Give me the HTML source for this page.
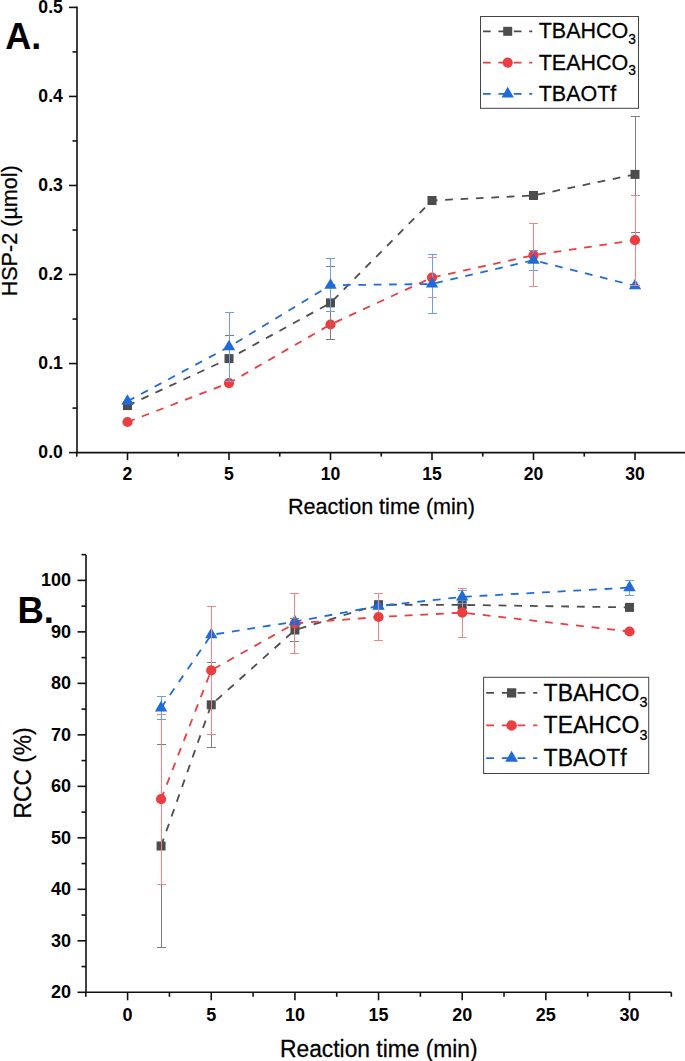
<!DOCTYPE html>
<html><head><meta charset="utf-8"><title>chart</title>
<style>html,body{margin:0;padding:0;background:#fff;}body{width:685px;height:1061px;overflow:hidden;font-family:"Liberation Sans",sans-serif;}svg{display:block;}</style>
</head><body>
<svg width="685" height="1061" viewBox="0 0 685 1061">
<rect width="685" height="1061" fill="#fff"/>
<g stroke="#111" stroke-width="1.6" fill="none">
<path d="M77.0,6.6 V452.6 H686"/>
<path d="M69.0,452.60 H77.0"/>
<path d="M69.0,363.56 H77.0"/>
<path d="M69.0,274.52 H77.0"/>
<path d="M69.0,185.48 H77.0"/>
<path d="M69.0,96.44 H77.0"/>
<path d="M69.0,7.40 H77.0"/>
<path d="M72.5,408.08 H77.0"/>
<path d="M72.5,319.04 H77.0"/>
<path d="M72.5,230.00 H77.0"/>
<path d="M72.5,140.96 H77.0"/>
<path d="M72.5,51.92 H77.0"/>
<path d="M127.50,452.6 V460.1"/>
<path d="M229.00,452.6 V460.1"/>
<path d="M330.50,452.6 V460.1"/>
<path d="M432.00,452.6 V460.1"/>
<path d="M533.50,452.6 V460.1"/>
<path d="M635.00,452.6 V460.1"/>
<path d="M76.75,452.6 V456.6"/>
<path d="M178.25,452.6 V456.6"/>
<path d="M279.75,452.6 V456.6"/>
<path d="M381.25,452.6 V456.6"/>
<path d="M482.75,452.6 V456.6"/>
<path d="M584.25,452.6 V456.6"/>
<path d="M685.75,452.6 V456.6"/>
</g>
<g font-family="Liberation Sans, sans-serif" font-weight="bold" font-size="17.6" fill="#000" text-anchor="end">
<text  transform="translate(62.80,458.10) scale(1,1.03)">0.0</text>
<text  transform="translate(62.80,369.06) scale(1,1.03)">0.1</text>
<text  transform="translate(62.80,280.02) scale(1,1.03)">0.2</text>
<text  transform="translate(62.80,190.98) scale(1,1.03)">0.3</text>
<text  transform="translate(62.80,101.94) scale(1,1.03)">0.4</text>
<text  transform="translate(62.80,12.90) scale(1,1.03)">0.5</text>
</g>
<g font-family="Liberation Sans, sans-serif" font-weight="bold" font-size="17.6" fill="#000" text-anchor="middle">
<text  transform="translate(127.50,480.20) scale(1,1.03)">2</text>
<text  transform="translate(229.00,480.20) scale(1,1.03)">5</text>
<text  transform="translate(330.50,480.20) scale(1,1.03)">10</text>
<text  transform="translate(432.00,480.20) scale(1,1.03)">15</text>
<text  transform="translate(533.50,480.20) scale(1,1.03)">20</text>
<text  transform="translate(635.00,480.20) scale(1,1.03)">30</text>
</g>
<text font-family="Liberation Sans, sans-serif" font-size="21.6" text-anchor="middle" stroke="#000" stroke-width="0.25" transform="translate(381.50,514.00) scale(1,1.05)">Reaction time (min)</text>
<text font-family="Liberation Sans, sans-serif" font-size="21.6" text-anchor="middle" stroke="#000" stroke-width="0.25" transform="translate(16.80,230.80) rotate(-90) scale(1,1.05)">HSP-2 (µmol)</text>
<text font-family="Liberation Sans, sans-serif" font-size="36" font-weight="bold" transform="translate(5.30,48.90) scale(1,1.03)">A.</text>
<g stroke="#111" stroke-width="1.6" fill="none">
<path d="M86.0,554.63 V992.3 H671.33"/>
<path d="M77.5,992.30 H86.0"/>
<path d="M77.5,940.81 H86.0"/>
<path d="M77.5,889.32 H86.0"/>
<path d="M77.5,837.83 H86.0"/>
<path d="M77.5,786.34 H86.0"/>
<path d="M77.5,734.85 H86.0"/>
<path d="M77.5,683.36 H86.0"/>
<path d="M77.5,631.87 H86.0"/>
<path d="M77.5,580.38 H86.0"/>
<path d="M81.5,966.55 H86.0"/>
<path d="M81.5,915.06 H86.0"/>
<path d="M81.5,863.57 H86.0"/>
<path d="M81.5,812.08 H86.0"/>
<path d="M81.5,760.59 H86.0"/>
<path d="M81.5,709.11 H86.0"/>
<path d="M81.5,657.62 H86.0"/>
<path d="M81.5,606.12 H86.0"/>
<path d="M81.5,554.63 H86.0"/>
<path d="M127.60,992.3 V1000.3"/>
<path d="M211.25,992.3 V1000.3"/>
<path d="M294.90,992.3 V1000.3"/>
<path d="M378.55,992.3 V1000.3"/>
<path d="M462.20,992.3 V1000.3"/>
<path d="M545.85,992.3 V1000.3"/>
<path d="M629.50,992.3 V1000.3"/>
<path d="M85.77,992.3 V996.8"/>
<path d="M169.43,992.3 V996.8"/>
<path d="M253.07,992.3 V996.8"/>
<path d="M336.73,992.3 V996.8"/>
<path d="M420.38,992.3 V996.8"/>
<path d="M504.02,992.3 V996.8"/>
<path d="M587.67,992.3 V996.8"/>
<path d="M671.33,992.3 V996.8"/>
</g>
<g font-family="Liberation Sans, sans-serif" font-weight="bold" font-size="18" fill="#000" text-anchor="end">
<text  transform="translate(71.00,998.00) scale(1,1.03)">20</text>
<text  transform="translate(71.00,946.51) scale(1,1.03)">30</text>
<text  transform="translate(71.00,895.02) scale(1,1.03)">40</text>
<text  transform="translate(71.00,843.53) scale(1,1.03)">50</text>
<text  transform="translate(71.00,792.04) scale(1,1.03)">60</text>
<text  transform="translate(71.00,740.55) scale(1,1.03)">70</text>
<text  transform="translate(71.00,689.06) scale(1,1.03)">80</text>
<text  transform="translate(71.00,637.57) scale(1,1.03)">90</text>
<text  transform="translate(71.00,586.08) scale(1,1.03)">100</text>
</g>
<g font-family="Liberation Sans, sans-serif" font-weight="bold" font-size="18" fill="#000" text-anchor="middle">
<text  transform="translate(127.60,1021.00) scale(1,1.03)">0</text>
<text  transform="translate(211.25,1021.00) scale(1,1.03)">5</text>
<text  transform="translate(294.90,1021.00) scale(1,1.03)">10</text>
<text  transform="translate(378.55,1021.00) scale(1,1.03)">15</text>
<text  transform="translate(462.20,1021.00) scale(1,1.03)">20</text>
<text  transform="translate(545.85,1021.00) scale(1,1.03)">25</text>
<text  transform="translate(629.50,1021.00) scale(1,1.03)">30</text>
</g>
<text font-family="Liberation Sans, sans-serif" font-size="22.8" text-anchor="middle" stroke="#000" stroke-width="0.25" transform="translate(378.80,1056.70) scale(1,1.05)">Reaction time (min)</text>
<text font-family="Liberation Sans, sans-serif" font-size="22.8" text-anchor="middle" stroke="#000" stroke-width="0.25" transform="translate(30.80,772.90) rotate(-90) scale(1,1.05)">RCC (%)</text>
<text font-family="Liberation Sans, sans-serif" font-size="36.5" font-weight="bold" transform="translate(17.50,622.50) scale(1,1.03)">B.</text>
<path d="M127.50,405.60 L229.00,358.60 L330.50,302.90 L432.00,200.50 L533.50,195.50 L635.00,174.40" fill="none" stroke="#4d4d4d" stroke-width="1.8" stroke-dasharray="7.7 7.7"/>
<rect x="123.00" y="401.10" width="9.00" height="9.00" fill="#4d4d4d"/>
<rect x="224.50" y="354.10" width="9.00" height="9.00" fill="#4d4d4d"/>
<rect x="326.00" y="298.40" width="9.00" height="9.00" fill="#4d4d4d"/>
<rect x="427.50" y="196.00" width="9.00" height="9.00" fill="#4d4d4d"/>
<rect x="529.00" y="191.00" width="9.00" height="9.00" fill="#4d4d4d"/>
<rect x="630.50" y="169.90" width="9.00" height="9.00" fill="#4d4d4d"/>
<path d="M127.50,422.00 L229.00,383.10 L330.50,324.50 L432.00,277.60 L533.50,255.20 L635.00,240.20" fill="none" stroke="#ec3d40" stroke-width="1.8" stroke-dasharray="7.7 7.7"/>
<circle cx="127.50" cy="422.00" r="5.10" fill="#ec3d40"/>
<circle cx="229.00" cy="383.10" r="5.10" fill="#ec3d40"/>
<circle cx="330.50" cy="324.50" r="5.10" fill="#ec3d40"/>
<circle cx="432.00" cy="277.60" r="5.10" fill="#ec3d40"/>
<circle cx="533.50" cy="255.20" r="5.10" fill="#ec3d40"/>
<circle cx="635.00" cy="240.20" r="5.10" fill="#ec3d40"/>
<path d="M127.50,401.30 L229.00,346.80 L330.50,285.20 L432.00,284.00 L533.50,260.30 L635.00,285.80" fill="none" stroke="#1f6cd8" stroke-width="1.8" stroke-dasharray="7.7 7.7"/>
<path d="M127.50,394.23 L133.70,404.83 L121.30,404.83 Z" fill="#1f6cd8"/>
<path d="M229.00,339.73 L235.20,350.33 L222.80,350.33 Z" fill="#1f6cd8"/>
<path d="M330.50,278.13 L336.70,288.73 L324.30,288.73 Z" fill="#1f6cd8"/>
<path d="M432.00,276.93 L438.20,287.53 L425.80,287.53 Z" fill="#1f6cd8"/>
<path d="M533.50,253.23 L539.70,263.83 L527.30,263.83 Z" fill="#1f6cd8"/>
<path d="M635.00,278.73 L641.20,289.33 L628.80,289.33 Z" fill="#1f6cd8"/>
<clipPath id="mga"><rect x="123.00" y="401.10" width="9.00" height="9.00" fill="#000"/><rect x="224.50" y="354.10" width="9.00" height="9.00" fill="#000"/><rect x="326.00" y="298.40" width="9.00" height="9.00" fill="#000"/><rect x="427.50" y="196.00" width="9.00" height="9.00" fill="#000"/><rect x="529.00" y="191.00" width="9.00" height="9.00" fill="#000"/><rect x="630.50" y="169.90" width="9.00" height="9.00" fill="#000"/></clipPath>
<path d="M229.5,335.5 V381.5 M225.0,335.5 H234.0 M225.0,381.5 H234.0" stroke="#7d7d7d" stroke-width="1" fill="none" shape-rendering="crispEdges"/>
<path d="M330.5,266.5 V339.5 M326.0,266.5 H335.0 M326.0,339.5 H335.0" stroke="#7d7d7d" stroke-width="1" fill="none" shape-rendering="crispEdges"/>
<path d="M635.5,116.5 V232.5 M631.0,116.5 H640.0 M631.0,232.5 H640.0" stroke="#7d7d7d" stroke-width="1" fill="none" shape-rendering="crispEdges"/>
<g clip-path="url(#mga)">
<path d="M229.5,335.5 V381.5 M225.0,335.5 H234.0 M225.0,381.5 H234.0" stroke="#4d4d4d" stroke-width="1" fill="none" shape-rendering="crispEdges"/>
<path d="M330.5,266.5 V339.5 M326.0,266.5 H335.0 M326.0,339.5 H335.0" stroke="#4d4d4d" stroke-width="1" fill="none" shape-rendering="crispEdges"/>
<path d="M635.5,116.5 V232.5 M631.0,116.5 H640.0 M631.0,232.5 H640.0" stroke="#4d4d4d" stroke-width="1" fill="none" shape-rendering="crispEdges"/>
</g>
<clipPath id="mra"><circle cx="127.50" cy="422.00" r="5.10" fill="#000"/><circle cx="229.00" cy="383.10" r="5.10" fill="#000"/><circle cx="330.50" cy="324.50" r="5.10" fill="#000"/><circle cx="432.00" cy="277.60" r="5.10" fill="#000"/><circle cx="533.50" cy="255.20" r="5.10" fill="#000"/><circle cx="635.00" cy="240.20" r="5.10" fill="#000"/></clipPath>
<path d="M432.5,257.5 V297.5 M428.0,257.5 H437.0 M428.0,297.5 H437.0" stroke="#f08587" stroke-width="1" fill="none" shape-rendering="crispEdges"/>
<path d="M533.5,223.5 V286.5 M529.0,223.5 H538.0 M529.0,286.5 H538.0" stroke="#f08587" stroke-width="1" fill="none" shape-rendering="crispEdges"/>
<path d="M635.5,195.5 V285.5 M631.0,195.5 H640.0 M631.0,285.5 H640.0" stroke="#f08587" stroke-width="1" fill="none" shape-rendering="crispEdges"/>
<g clip-path="url(#mra)">
<path d="M432.5,257.5 V297.5 M428.0,257.5 H437.0 M428.0,297.5 H437.0" stroke="#ec3d40" stroke-width="1" fill="none" shape-rendering="crispEdges"/>
<path d="M533.5,223.5 V286.5 M529.0,223.5 H538.0 M529.0,286.5 H538.0" stroke="#ec3d40" stroke-width="1" fill="none" shape-rendering="crispEdges"/>
<path d="M635.5,195.5 V285.5 M631.0,195.5 H640.0 M631.0,285.5 H640.0" stroke="#ec3d40" stroke-width="1" fill="none" shape-rendering="crispEdges"/>
</g>
<clipPath id="mba"><path d="M127.50,394.23 L133.70,404.83 L121.30,404.83 Z" fill="#000"/><path d="M229.00,339.73 L235.20,350.33 L222.80,350.33 Z" fill="#000"/><path d="M330.50,278.13 L336.70,288.73 L324.30,288.73 Z" fill="#000"/><path d="M432.00,276.93 L438.20,287.53 L425.80,287.53 Z" fill="#000"/><path d="M533.50,253.23 L539.70,263.83 L527.30,263.83 Z" fill="#000"/><path d="M635.00,278.73 L641.20,289.33 L628.80,289.33 Z" fill="#000"/></clipPath>
<path d="M229.5,312.5 V381.5 M225.0,312.5 H234.0 M225.0,381.5 H234.0" stroke="#6c9de6" stroke-width="1" fill="none" shape-rendering="crispEdges"/>
<path d="M330.5,258.5 V311.5 M326.0,258.5 H335.0 M326.0,311.5 H335.0" stroke="#6c9de6" stroke-width="1" fill="none" shape-rendering="crispEdges"/>
<path d="M432.5,254.5 V313.5 M428.0,254.5 H437.0 M428.0,313.5 H437.0" stroke="#6c9de6" stroke-width="1" fill="none" shape-rendering="crispEdges"/>
<path d="M533.5,250.5 V270.5 M529.0,250.5 H538.0 M529.0,270.5 H538.0" stroke="#6c9de6" stroke-width="1" fill="none" shape-rendering="crispEdges"/>
<g clip-path="url(#mba)">
<path d="M229.5,312.5 V381.5 M225.0,312.5 H234.0 M225.0,381.5 H234.0" stroke="#1f6cd8" stroke-width="1" fill="none" shape-rendering="crispEdges"/>
<path d="M330.5,258.5 V311.5 M326.0,258.5 H335.0 M326.0,311.5 H335.0" stroke="#1f6cd8" stroke-width="1" fill="none" shape-rendering="crispEdges"/>
<path d="M432.5,254.5 V313.5 M428.0,254.5 H437.0 M428.0,313.5 H437.0" stroke="#1f6cd8" stroke-width="1" fill="none" shape-rendering="crispEdges"/>
<path d="M533.5,250.5 V270.5 M529.0,250.5 H538.0 M529.0,270.5 H538.0" stroke="#1f6cd8" stroke-width="1" fill="none" shape-rendering="crispEdges"/>
</g>
<path d="M161.06,846.00 L211.25,704.80 L294.90,630.00 L378.55,604.70 L462.20,604.90 L629.50,607.40" fill="none" stroke="#4d4d4d" stroke-width="1.8" stroke-dasharray="7.85 7.8"/>
<rect x="156.56" y="841.50" width="9.00" height="9.00" fill="#4d4d4d"/>
<rect x="206.75" y="700.30" width="9.00" height="9.00" fill="#4d4d4d"/>
<rect x="290.40" y="625.50" width="9.00" height="9.00" fill="#4d4d4d"/>
<rect x="374.05" y="600.20" width="9.00" height="9.00" fill="#4d4d4d"/>
<rect x="457.70" y="600.40" width="9.00" height="9.00" fill="#4d4d4d"/>
<rect x="625.00" y="602.90" width="9.00" height="9.00" fill="#4d4d4d"/>
<path d="M161.06,799.20 L211.25,670.30 L294.90,623.40 L378.55,617.00 L462.20,612.60 L629.50,631.50" fill="none" stroke="#ec3d40" stroke-width="1.8" stroke-dasharray="7.85 7.8"/>
<circle cx="161.06" cy="799.20" r="5.10" fill="#ec3d40"/>
<circle cx="211.25" cy="670.30" r="5.10" fill="#ec3d40"/>
<circle cx="294.90" cy="623.40" r="5.10" fill="#ec3d40"/>
<circle cx="378.55" cy="617.00" r="5.10" fill="#ec3d40"/>
<circle cx="462.20" cy="612.60" r="5.10" fill="#ec3d40"/>
<circle cx="629.50" cy="631.50" r="5.10" fill="#ec3d40"/>
<path d="M161.06,707.90 L211.25,634.80 L294.90,621.70 L378.55,606.10 L462.20,596.90 L629.50,587.60" fill="none" stroke="#1f6cd8" stroke-width="1.8" stroke-dasharray="7.85 7.8"/>
<path d="M161.06,700.83 L167.26,711.43 L154.86,711.43 Z" fill="#1f6cd8"/>
<path d="M211.25,627.73 L217.45,638.33 L205.05,638.33 Z" fill="#1f6cd8"/>
<path d="M294.90,614.63 L301.10,625.23 L288.70,625.23 Z" fill="#1f6cd8"/>
<path d="M378.55,599.03 L384.75,609.63 L372.35,609.63 Z" fill="#1f6cd8"/>
<path d="M462.20,589.83 L468.40,600.43 L456.00,600.43 Z" fill="#1f6cd8"/>
<path d="M629.50,580.53 L635.70,591.13 L623.30,591.13 Z" fill="#1f6cd8"/>
<clipPath id="mgb"><rect x="156.56" y="841.50" width="9.00" height="9.00" fill="#000"/><rect x="206.75" y="700.30" width="9.00" height="9.00" fill="#000"/><rect x="290.40" y="625.50" width="9.00" height="9.00" fill="#000"/><rect x="374.05" y="600.20" width="9.00" height="9.00" fill="#000"/><rect x="457.70" y="600.40" width="9.00" height="9.00" fill="#000"/><rect x="625.00" y="602.90" width="9.00" height="9.00" fill="#000"/></clipPath>
<path d="M161.5,744.5 V947.5 M157.0,744.5 H166.0 M157.0,947.5 H166.0" stroke="#7d7d7d" stroke-width="1" fill="none" shape-rendering="crispEdges"/>
<path d="M211.5,662.5 V747.5 M207.0,662.5 H216.0 M207.0,747.5 H216.0" stroke="#7d7d7d" stroke-width="1" fill="none" shape-rendering="crispEdges"/>
<path d="M294.5,618.5 V641.5 M290.0,618.5 H299.0 M290.0,641.5 H299.0" stroke="#7d7d7d" stroke-width="1" fill="none" shape-rendering="crispEdges"/>
<g clip-path="url(#mgb)">
<path d="M161.5,744.5 V947.5 M157.0,744.5 H166.0 M157.0,947.5 H166.0" stroke="#4d4d4d" stroke-width="1" fill="none" shape-rendering="crispEdges"/>
<path d="M211.5,662.5 V747.5 M207.0,662.5 H216.0 M207.0,747.5 H216.0" stroke="#4d4d4d" stroke-width="1" fill="none" shape-rendering="crispEdges"/>
<path d="M294.5,618.5 V641.5 M290.0,618.5 H299.0 M290.0,641.5 H299.0" stroke="#4d4d4d" stroke-width="1" fill="none" shape-rendering="crispEdges"/>
</g>
<clipPath id="mrb"><circle cx="161.06" cy="799.20" r="5.10" fill="#000"/><circle cx="211.25" cy="670.30" r="5.10" fill="#000"/><circle cx="294.90" cy="623.40" r="5.10" fill="#000"/><circle cx="378.55" cy="617.00" r="5.10" fill="#000"/><circle cx="462.20" cy="612.60" r="5.10" fill="#000"/><circle cx="629.50" cy="631.50" r="5.10" fill="#000"/></clipPath>
<path d="M161.5,714.5 V884.5 M157.0,714.5 H166.0 M157.0,884.5 H166.0" stroke="#f08587" stroke-width="1" fill="none" shape-rendering="crispEdges"/>
<path d="M211.5,606.5 V734.5 M207.0,606.5 H216.0 M207.0,734.5 H216.0" stroke="#f08587" stroke-width="1" fill="none" shape-rendering="crispEdges"/>
<path d="M294.5,593.5 V653.5 M290.0,593.5 H299.0 M290.0,653.5 H299.0" stroke="#f08587" stroke-width="1" fill="none" shape-rendering="crispEdges"/>
<path d="M378.5,593.5 V640.5 M374.0,593.5 H383.0 M374.0,640.5 H383.0" stroke="#f08587" stroke-width="1" fill="none" shape-rendering="crispEdges"/>
<path d="M462.5,588.5 V637.5 M458.0,588.5 H467.0 M458.0,637.5 H467.0" stroke="#f08587" stroke-width="1" fill="none" shape-rendering="crispEdges"/>
<g clip-path="url(#mrb)">
<path d="M161.5,714.5 V884.5 M157.0,714.5 H166.0 M157.0,884.5 H166.0" stroke="#ec3d40" stroke-width="1" fill="none" shape-rendering="crispEdges"/>
<path d="M211.5,606.5 V734.5 M207.0,606.5 H216.0 M207.0,734.5 H216.0" stroke="#ec3d40" stroke-width="1" fill="none" shape-rendering="crispEdges"/>
<path d="M294.5,593.5 V653.5 M290.0,593.5 H299.0 M290.0,653.5 H299.0" stroke="#ec3d40" stroke-width="1" fill="none" shape-rendering="crispEdges"/>
<path d="M378.5,593.5 V640.5 M374.0,593.5 H383.0 M374.0,640.5 H383.0" stroke="#ec3d40" stroke-width="1" fill="none" shape-rendering="crispEdges"/>
<path d="M462.5,588.5 V637.5 M458.0,588.5 H467.0 M458.0,637.5 H467.0" stroke="#ec3d40" stroke-width="1" fill="none" shape-rendering="crispEdges"/>
</g>
<clipPath id="mbb"><path d="M161.06,700.83 L167.26,711.43 L154.86,711.43 Z" fill="#000"/><path d="M211.25,627.73 L217.45,638.33 L205.05,638.33 Z" fill="#000"/><path d="M294.90,614.63 L301.10,625.23 L288.70,625.23 Z" fill="#000"/><path d="M378.55,599.03 L384.75,609.63 L372.35,609.63 Z" fill="#000"/><path d="M462.20,589.83 L468.40,600.43 L456.00,600.43 Z" fill="#000"/><path d="M629.50,580.53 L635.70,591.13 L623.30,591.13 Z" fill="#000"/></clipPath>
<path d="M161.5,696.5 V719.5 M157.0,696.5 H166.0 M157.0,719.5 H166.0" stroke="#6c9de6" stroke-width="1" fill="none" shape-rendering="crispEdges"/>
<path d="M462.5,590.5 V603.5 M458.0,590.5 H467.0 M458.0,603.5 H467.0" stroke="#6c9de6" stroke-width="1" fill="none" shape-rendering="crispEdges"/>
<path d="M629.5,580.5 V595.5 M625.0,580.5 H634.0 M625.0,595.5 H634.0" stroke="#6c9de6" stroke-width="1" fill="none" shape-rendering="crispEdges"/>
<g clip-path="url(#mbb)">
<path d="M161.5,696.5 V719.5 M157.0,696.5 H166.0 M157.0,719.5 H166.0" stroke="#1f6cd8" stroke-width="1" fill="none" shape-rendering="crispEdges"/>
<path d="M462.5,590.5 V603.5 M458.0,590.5 H467.0 M458.0,603.5 H467.0" stroke="#1f6cd8" stroke-width="1" fill="none" shape-rendering="crispEdges"/>
<path d="M629.5,580.5 V595.5 M625.0,580.5 H634.0 M625.0,595.5 H634.0" stroke="#1f6cd8" stroke-width="1" fill="none" shape-rendering="crispEdges"/>
</g>
<rect x="480.5" y="16.5" width="158.0" height="91.8" fill="#fff" stroke="#444" stroke-width="1"/>
<path d="M483,31.3 H532.3" stroke="#4d4d4d" stroke-width="1.8" stroke-dasharray="7.7 7.7"/>
<rect x="503.20" y="26.80" width="9.00" height="9.00" fill="#4d4d4d"/>
<text font-family="Liberation Sans, sans-serif" font-size="21.5" stroke="#000" stroke-width="0.25" transform="translate(538.70,38.20) scale(1,1.05)">TBAHCO<tspan font-size="13.8" dy="5.6">3</tspan></text>
<path d="M483,62.6 H532.3" stroke="#ec3d40" stroke-width="1.8" stroke-dasharray="7.7 7.7"/>
<circle cx="507.70" cy="62.60" r="5.10" fill="#ec3d40"/>
<text font-family="Liberation Sans, sans-serif" font-size="21.5" stroke="#000" stroke-width="0.25" transform="translate(538.70,69.50) scale(1,1.05)">TEAHCO<tspan font-size="13.8" dy="5.6">3</tspan></text>
<path d="M483,93.9 H532.3" stroke="#1f6cd8" stroke-width="1.8" stroke-dasharray="7.7 7.7"/>
<path d="M507.70,86.83 L513.90,97.43 L501.50,97.43 Z" fill="#1f6cd8"/>
<text font-family="Liberation Sans, sans-serif" font-size="21.5" stroke="#000" stroke-width="0.25" transform="translate(538.70,100.80) scale(1,1.05)">TBAOTf</text>
<rect x="483.6" y="677.3" width="165.10000000000002" height="96.20000000000005" fill="#fff" stroke="#444" stroke-width="1"/>
<path d="M486.2,692.9 H537.3" stroke="#4d4d4d" stroke-width="1.8" stroke-dasharray="7.85 7.8"/>
<rect x="506.97" y="688.26" width="9.27" height="9.27" fill="#4d4d4d"/>
<text font-family="Liberation Sans, sans-serif" font-size="23.0" stroke="#000" stroke-width="0.25" transform="translate(543.60,700.80) scale(1,1.05)">TBAHCO<tspan font-size="14.4" dy="5.9">3</tspan></text>
<path d="M486.2,725.4 H537.3" stroke="#ec3d40" stroke-width="1.8" stroke-dasharray="7.85 7.8"/>
<circle cx="511.60" cy="725.40" r="5.25" fill="#ec3d40"/>
<text font-family="Liberation Sans, sans-serif" font-size="23.0" stroke="#000" stroke-width="0.25" transform="translate(543.60,733.30) scale(1,1.05)">TEAHCO<tspan font-size="14.4" dy="5.9">3</tspan></text>
<path d="M486.2,758.1 H537.3" stroke="#1f6cd8" stroke-width="1.8" stroke-dasharray="7.85 7.8"/>
<path d="M511.60,750.82 L517.99,761.74 L505.21,761.74 Z" fill="#1f6cd8"/>
<text font-family="Liberation Sans, sans-serif" font-size="23.0" stroke="#000" stroke-width="0.25" transform="translate(543.60,766.00) scale(1,1.05)">TBAOTf</text>
</svg>
</body></html>
